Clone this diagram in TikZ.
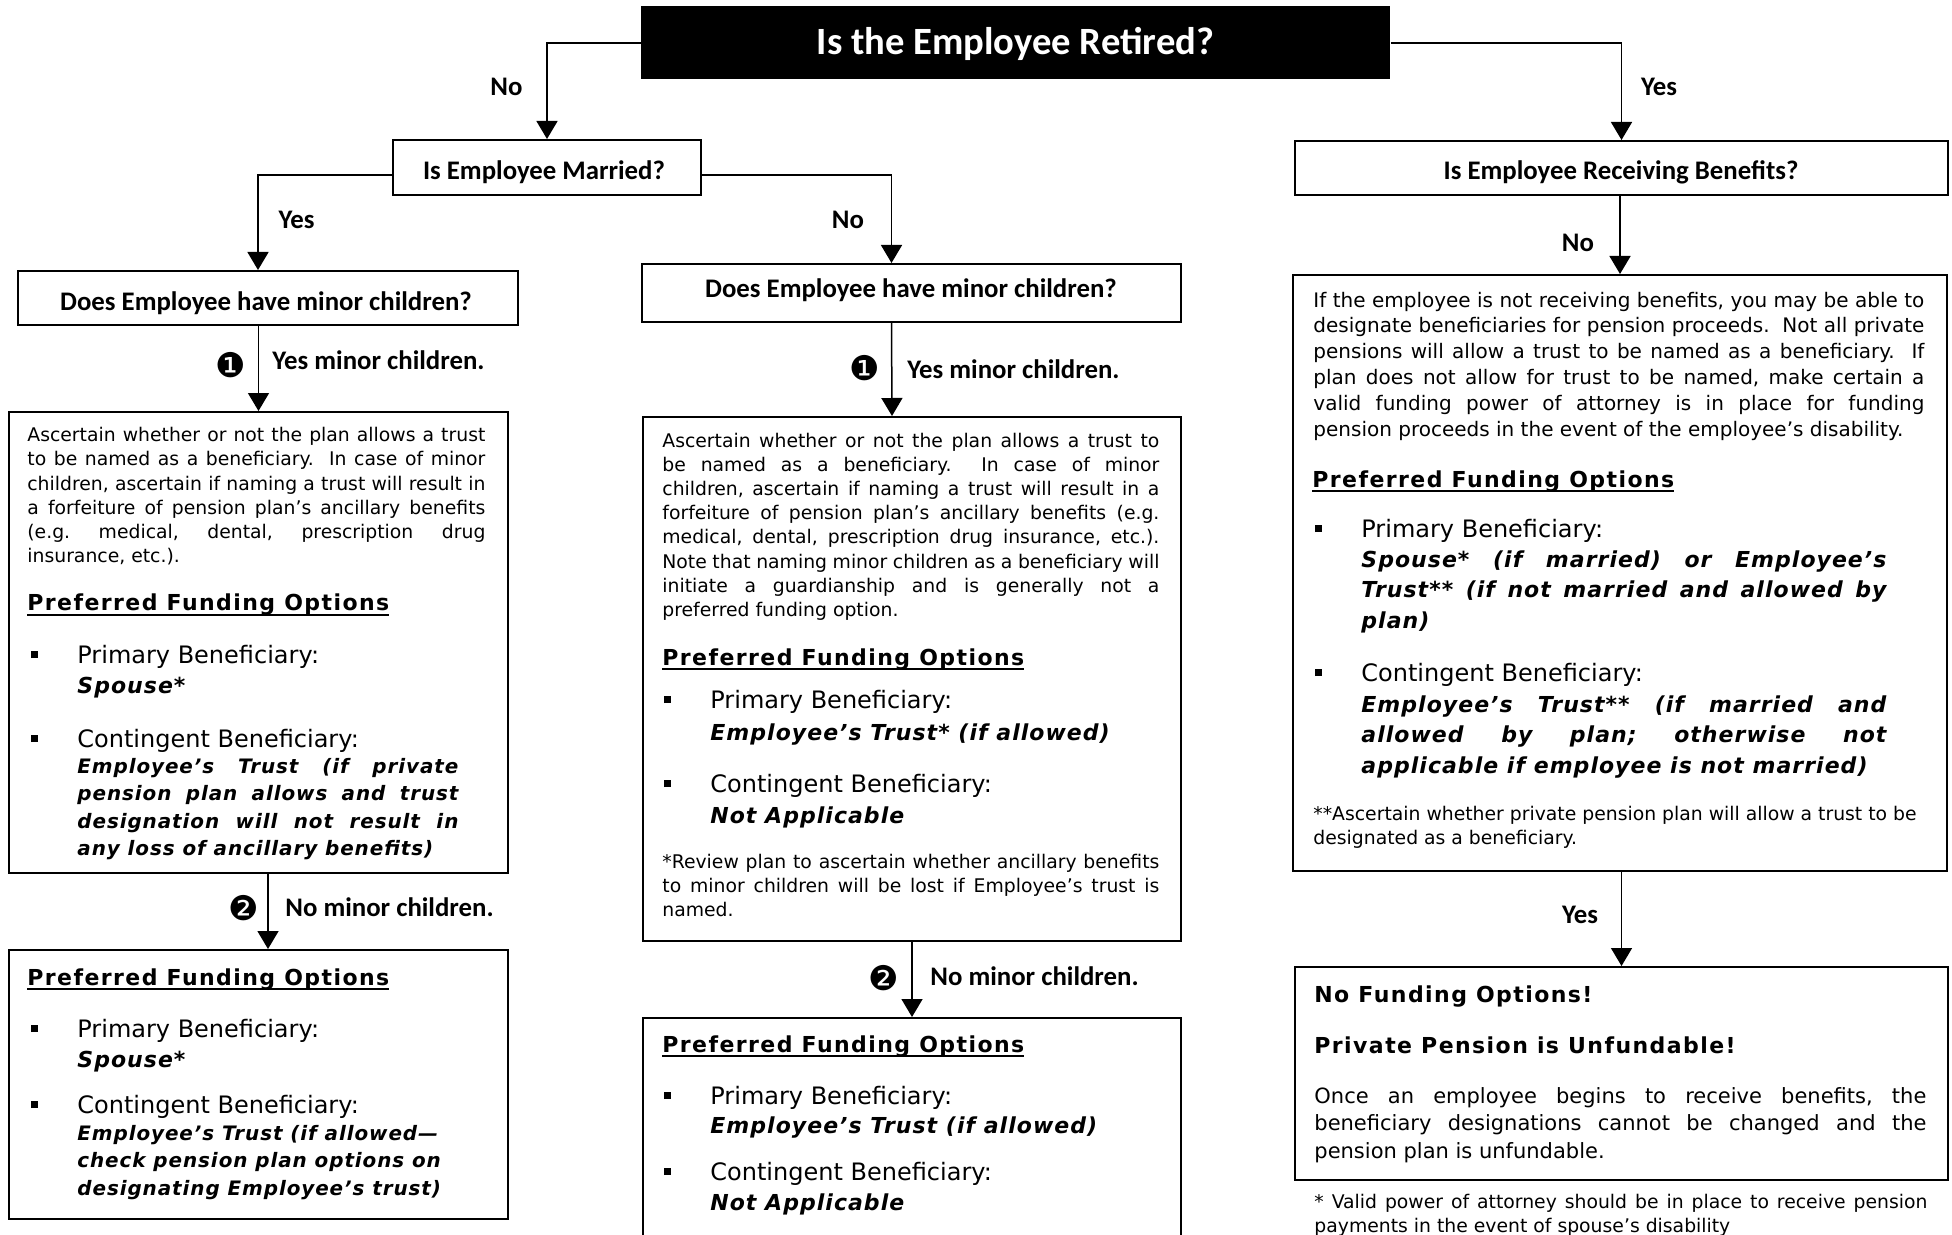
\documentclass[tikz,border=0pt]{standalone}
\usepackage{fontspec}
\setmainfont{DejaVu Sans}
\newfontfamily\hfont{Carlito}
\newfontfamily\lsfont{DejaVu Sans}[LetterSpace=6.5]
\newfontfamily\bifont{DejaVu Sans}[LetterSpace=4.7]
\usetikzlibrary{arrows.meta}
\frenchspacing
\hbadness=10000
\hfuzz=50pt
\newcommand\jline[1]{\hbox to\hsize{#1}}
\newcommand\lline[1]{\hbox{#1}}
\newcommand\blk[2]{\vtop{\hsize=#1\relax\parindent=0pt #2}}
\newcommand\blt{\llap{\raisebox{2.4pt}{\rule{3.5pt}{3.5pt}}\hspace{19.5pt}}}
\newcommand\pfo{\setbox0\hbox{\lsfont\bfseries\fontsize{11pt}{13pt}\selectfont Preferred Funding Options}\rlap{\rule[-2.7pt]{\wd0}{1pt}}\box0}
\newcommand\bx[5]{\node[box, minimum width={(#4-#2)*0.5pt}, minimum height={(#5-#3)*0.5pt}, anchor=north west] (#1) at (#2,#3) {};}
\tikzset{
  box/.style={draw, line width=1pt, inner sep=0pt},
  arr/.style={line width=0.75pt, -{Triangle[width=10.5pt,length=9pt]}},
  qtext/.style={anchor=base, inner sep=0pt, font=\hfont\bfseries\fontsize{13.4pt}{16pt}\selectfont},
  lbl/.style={inner sep=0pt, font=\hfont\bfseries\fontsize{13.4pt}{16pt}\selectfont},
  num/.style={inner sep=0pt, font=\fontsize{17pt}{19pt}\selectfont},
  para/.style={anchor=base west, inner sep=0pt, font=\fontsize{9.4pt}{12.1pt}\selectfont},
  rpara/.style={anchor=base west, inner sep=0pt, font=\fontsize{10pt}{12.9pt}\selectfont},
  opara/.style={anchor=base west, inner sep=0pt, font=\fontsize{10.5pt}{13.75pt}\selectfont},
  item/.style={anchor=base west, inner sep=0pt, font=\fontsize{12pt}{14pt}\selectfont},
  bi/.style={anchor=base west, inner sep=0pt, font=\bifont\bfseries\itshape\fontsize{11pt}{15.25pt}\selectfont},
  bis/.style={anchor=base west, inner sep=0pt, font=\bifont\bfseries\itshape\fontsize{9.95pt}{13.75pt}\selectfont},
  head/.style={anchor=base west, inner sep=0pt},
  shead/.style={anchor=base west, inner sep=0pt, font=\lsfont\bfseries\fontsize{11pt}{13pt}\selectfont},
}
\begin{document}
\begin{tikzpicture}[x=0.5pt,y=-0.5pt]
\fill[white] (0,0) rectangle (1952,1235);
\useasboundingbox (0,0) rectangle (1952,1235);

% ---------- boxes ----------
\node[fill=black, inner sep=0pt, minimum width=374.5pt, minimum height=36.5pt, anchor=north west] (title) at (641,6) {};
\bx{married}{392}{139}{700}{194}
\bx{recv}{1294}{140}{1947}{194}
\bx{lminor}{17}{270}{517}{324}
\bx{mminor}{641}{263}{1180}{321}
\bx{lb1}{8}{411}{507}{872}
\bx{lb2}{8}{949}{507}{1218}
\bx{mb1}{642}{416}{1180}{940}
\bx{mb2}{642}{1017}{1180}{1262}
\bx{rb1}{1292}{274}{1946}{870}
\bx{rb2}{1294}{966}{1947}{1179}

% ---------- question texts ----------
\node[anchor=base, inner sep=0pt, text=white, font=\hfont\bfseries\fontsize{19.3pt}{22pt}\selectfont] (ttext) at (1015.5,55) {Is the Employee Retired?};
\node[qtext] (mtext) at (544,180) {Is Employee Married?};
\node[qtext] (rtext) at (1621,180) {Is Employee Receiving Benefits?};
\node[qtext] (lqtext) at (266,310.5) {Does Employee have minor children?};
\node[qtext] (mqtext) at (911,298) {Does Employee have minor children?};

% ---------- connectors ----------
\draw[arr] (title.west) -| (married.north);
\draw[arr] (title.east) -| (recv.north);
\draw[arr] ([yshift=-3.75pt]married.west) -| ([xshift=-5pt]lminor.north);
\draw[arr] ([yshift=-3.75pt]married.east) -| ([xshift=-10pt]mminor.north);
\draw[arr] (lminor.south -| lb1.north) -- (lb1.north);
\draw[arr] ([xshift=-10pt]mminor.south) -- ([xshift=-10pt]mb1.north);
\draw[arr] ([xshift=4.75pt]lb1.south) -- ([xshift=4.75pt]lb2.north);
\draw[arr] (mb1.south) -- (mb2.north);
\draw[arr] (recv.south -| rb1.north) -- (rb1.north);
\draw[arr] (rb1.south -| rb2.north) -- (rb2.north);

% ---------- connector labels ----------
\node[lbl] (l1) at (506.5,87) {No};
\node[lbl] (l2) at (1659,87) {Yes};
\node[lbl] (l3) at (296.5,220) {Yes};
\node[lbl] (l4) at (848,220) {No};
\node[lbl] (l5) at (1578,243) {No};
\node[lbl] (l6) at (1580,915) {Yes};
\node[num] (n1) at (231,365) {❶};
\node[lbl, anchor=west] (l7) at (272,360) {Yes minor children.};
\node[num] (n2) at (865,368) {❶};
\node[lbl, anchor=west] (l8) at (907,369) {Yes minor children.};
\node[num] (n3) at (244,908) {❷};
\node[lbl, anchor=west] (l9) at (285,907) {No minor children.};
\node[num] (n4) at (884,978) {❷};
\node[lbl, anchor=west] (l10) at (930,976) {No minor children.};

% ---------- left box 1 ----------
\node[para] (lb1p) at (27,441.7) {\blk{229pt}{\jline{Ascertain whether or not the plan allows a trust}\jline{to be named as a beneficiary.\ \ In case of minor}\jline{children, ascertain if naming a trust will result in}\jline{a forfeiture of pension plan’s ancillary benefits}\jline{(e.g. medical, dental, prescription drug}\lline{insurance, etc.).}}};
\node[head] (lb1h) at (27,610.7) {\pfo};
\node[item] (lb1i1) at (77,663) {\blt Primary Beneficiary:};
\node[bi] (lb1s1) at (77,693) {Spouse*};
\node[item] (lb1i2) at (77,747) {\blt Contingent Beneficiary:};
\node[bis] (lb1s2) at (77,773) {\blk{190.5pt}{\jline{Employee’s Trust (if private}\jline{pension plan allows and trust}\jline{designation will not result in}\lline{any loss of ancillary benefits)}}};

% ---------- left box 2 ----------
\node[head] (lb2h) at (27,985) {\pfo};
\node[item] (lb2i1) at (77,1037) {\blt Primary Beneficiary:};
\node[bi] (lb2s1) at (77,1067) {Spouse*};
\node[item] (lb2i2) at (77,1113) {\blt Contingent Beneficiary:};
\node[bis] (lb2s2) at (77,1140) {\blk{190.5pt}{\lline{Employee’s Trust (if allowed—}\lline{check pension plan options on}\lline{designating Employee’s trust)}}};

% ---------- middle box 1 ----------
\node[para] (mb1p) at (662,447) {\blk{248.5pt}{\jline{Ascertain whether or not the plan allows a trust to}\jline{be named as a beneficiary.\ \ In case of minor}\jline{children, ascertain if naming a trust will result in a}\jline{forfeiture of pension plan’s ancillary benefits (e.g.}\jline{medical, dental, prescription drug insurance, etc.).}\jline{Note that naming minor children as a beneficiary will}\jline{initiate a guardianship and is generally not a}\lline{preferred funding option.}}};
\node[head] (mb1h) at (662,665) {\pfo};
\node[item] (mb1i1) at (710,708) {\blt Primary Beneficiary:};
\node[bi] (mb1s1) at (710,740) {Employee’s Trust* (if allowed)};
\node[item] (mb1i2) at (710,792) {\blt Contingent Beneficiary:};
\node[bi] (mb1s2) at (710,823) {Not Applicable};
\node[para] (mb1f) at (662,868) {\blk{248.5pt}{\jline{*Review plan to ascertain whether ancillary benefits}\jline{to minor children will be lost if Employee’s trust is}\lline{named.}}};

% ---------- middle box 2 ----------
\node[head] (mb2h) at (662,1052) {\pfo};
\node[item] (mb2i1) at (710,1104) {\blt Primary Beneficiary:};
\node[bi] (mb2s1) at (710,1133) {Employee’s Trust (if allowed)};
\node[item] (mb2i2) at (710,1180) {\blt Contingent Beneficiary:};
\node[bi] (mb2s2) at (710,1210) {Not Applicable};

% ---------- right box 1 ----------
\node[rpara] (rb1p) at (1313,307) {\blk{305.5pt}{\jline{If the employee is not receiving benefits, you may be able to}\jline{designate beneficiaries for pension proceeds.\ \ Not all private}\jline{pensions will allow a trust to be named as a beneficiary.\ \ If}\jline{plan does not allow for trust to be named, make certain a}\jline{valid funding power of attorney is in place for funding}\lline{pension proceeds in the event of the employee’s disability.}}};
\node[head] (rb1h) at (1312,487) {\pfo};
\node[item] (rb1i1) at (1361,537) {\blt Primary Beneficiary:};
\node[bi] (rb1s1) at (1361,567) {\blk{262.5pt}{\jline{Spouse* (if married) or Employee’s}\jline{Trust** (if not married and allowed by}\lline{plan)}}};
\node[item] (rb1i2) at (1361,681) {\blt Contingent Beneficiary:};
\node[bi] (rb1s2) at (1361,712) {\blk{262.5pt}{\jline{Employee’s Trust** (if married and}\jline{allowed by plan; otherwise not}\lline{applicable if employee is not married)}}};
\node[para] (rb1f) at (1313,820) {\blk{305.5pt}{\lline{**Ascertain whether private pension plan will allow a trust to be}\lline{designated as a beneficiary.}}};

% ---------- right box 2 ----------
\node[shead] (rb2h1) at (1314,1002) {No Funding Options!};
\node[shead] (rb2h2) at (1314,1053) {Private Pension is Unfundable!};
\node[opara] (rb2p) at (1314,1103) {\blk{306pt}{\jline{Once an employee begins to receive benefits, the}\jline{beneficiary designations cannot be changed and the}\lline{pension plan is unfundable.}}};
\node[para] (rfoot) at (1314,1208) {\blk{306.5pt}{\jline{* Valid power of attorney should be in place to receive pension}\lline{payments in the event of spouse’s disability}}};
\end{tikzpicture}
\end{document}
